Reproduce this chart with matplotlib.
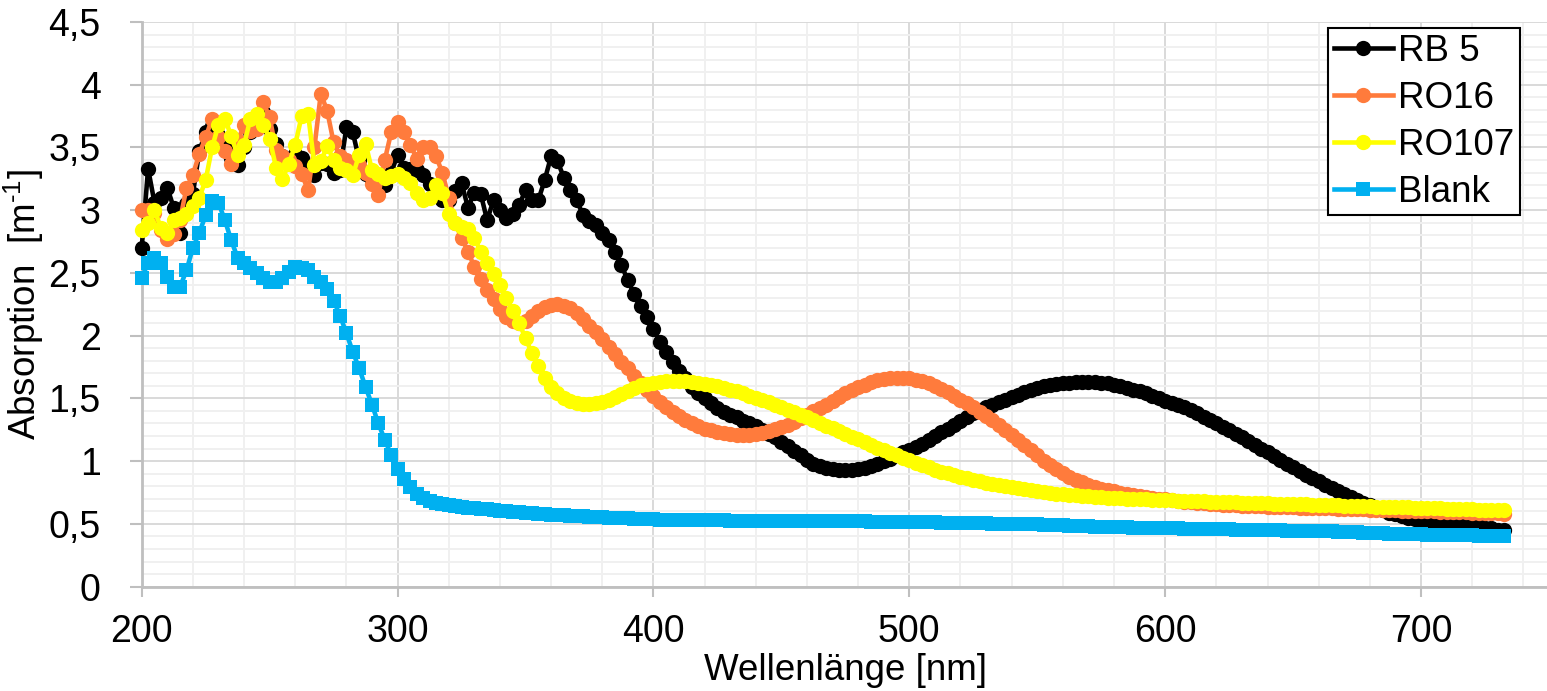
import numpy as np
import matplotlib
matplotlib.use("Agg")
import matplotlib.pyplot as plt
from matplotlib.ticker import MultipleLocator, FuncFormatter

# -----------------------------
# Data, step 2.5 nm from 200 nm
# -----------------------------
wavelength = 200 + 2.5 * np.arange(214)

rb5 = [
    2.70, 3.33, 3.06, 3.10, 3.18, 3.02, 2.82, 3.05, 3.13, 3.47,
    3.62, 3.67, 3.60, 3.50, 3.42, 3.36, 3.50, 3.62, 3.70, 3.78,
    3.65, 3.53, 3.43, 3.40, 3.45, 3.42, 3.35, 3.28, 3.38, 3.37,
    3.30, 3.32, 3.66, 3.62, 3.40, 3.29, 3.24, 3.22, 3.20, 3.30,
    3.44, 3.34, 3.33, 3.32, 3.28, 3.21, 3.15, 3.08, 3.08, 3.15,
    3.22, 3.02, 3.14, 3.13, 2.92, 3.08, 3.00, 2.94, 2.97, 3.04,
    3.16, 3.08, 3.08, 3.24, 3.43, 3.39, 3.26, 3.16, 3.08, 2.96,
    2.91, 2.88, 2.82, 2.76, 2.67, 2.56, 2.44, 2.33, 2.24, 2.15,
    2.05, 1.95, 1.87, 1.79, 1.72, 1.66, 1.59, 1.54, 1.50, 1.46,
    1.42, 1.39, 1.37, 1.35, 1.32, 1.30, 1.28, 1.25, 1.22, 1.19,
    1.15, 1.12, 1.08, 1.05, 1.01, 0.98, 0.96, 0.945, 0.935, 0.93,
    0.93, 0.93, 0.935, 0.945, 0.96, 0.98, 1.00, 1.02, 1.045, 1.07,
    1.09, 1.115, 1.14, 1.17, 1.20, 1.23, 1.26, 1.29, 1.32, 1.35,
    1.38, 1.41, 1.43, 1.45, 1.47, 1.49, 1.51, 1.53, 1.55, 1.565,
    1.58, 1.595, 1.605, 1.615, 1.62, 1.625, 1.63, 1.63, 1.63, 1.63,
    1.625, 1.62, 1.61, 1.60, 1.585, 1.57, 1.555, 1.54, 1.52, 1.50,
    1.48, 1.465, 1.45, 1.43, 1.405, 1.38, 1.355, 1.33, 1.30, 1.27,
    1.245, 1.22, 1.19, 1.16, 1.13, 1.10, 1.07, 1.04, 1.01, 0.98,
    0.95, 0.92, 0.89, 0.865, 0.84, 0.81, 0.785, 0.76, 0.74, 0.715,
    0.69, 0.67, 0.65, 0.63, 0.61, 0.59, 0.575, 0.56, 0.55, 0.54,
    0.53, 0.525, 0.52, 0.515, 0.51, 0.505, 0.50, 0.495, 0.49, 0.48,
    0.47, 0.465, 0.455, 0.45,
]

ro16 = [
    3.00, 3.00, 2.98, 2.84, 2.77, 2.81, 2.92, 3.18, 3.28, 3.45,
    3.58, 3.73, 3.58, 3.47, 3.37, 3.55, 3.68, 3.63, 3.65, 3.86,
    3.74, 3.48, 3.43, 3.40, 3.35, 3.29, 3.16, 3.50, 3.93, 3.79,
    3.54, 3.43, 3.40, 3.37, 3.36, 3.30, 3.21, 3.12, 3.40, 3.62,
    3.70, 3.62, 3.52, 3.41, 3.50, 3.50, 3.43, 3.30, 3.10, 2.90,
    2.78, 2.67, 2.55, 2.45, 2.36, 2.29, 2.21, 2.15, 2.12, 2.10,
    2.12, 2.16, 2.20, 2.23, 2.245, 2.25, 2.24, 2.22, 2.18, 2.13,
    2.08, 2.03, 1.97, 1.91, 1.85, 1.79, 1.74, 1.68, 1.62, 1.57,
    1.52, 1.47, 1.43, 1.39, 1.36, 1.33, 1.30, 1.28, 1.26, 1.245,
    1.235, 1.225, 1.215, 1.21, 1.21, 1.21, 1.215, 1.225, 1.24, 1.255,
    1.27, 1.29, 1.315, 1.34, 1.37, 1.40, 1.425, 1.45, 1.48, 1.51,
    1.54, 1.565, 1.59, 1.61, 1.63, 1.645, 1.655, 1.66, 1.665, 1.665,
    1.66, 1.65, 1.635, 1.62, 1.60, 1.575, 1.55, 1.52, 1.49, 1.46,
    1.43, 1.395, 1.36, 1.325, 1.285, 1.245, 1.205, 1.165, 1.125, 1.085,
    1.045, 1.005, 0.97, 0.935, 0.905, 0.875, 0.85, 0.83, 0.81, 0.795,
    0.78, 0.77, 0.76, 0.75, 0.74, 0.73, 0.722, 0.715, 0.708, 0.702,
    0.696, 0.69, 0.684, 0.678, 0.673, 0.668, 0.664, 0.66, 0.657, 0.654,
    0.651, 0.648, 0.646, 0.644, 0.642, 0.640, 0.638, 0.636, 0.635, 0.633,
    0.632, 0.630, 0.629, 0.627, 0.626, 0.624, 0.623, 0.621, 0.620, 0.618,
    0.617, 0.615, 0.614, 0.612, 0.611, 0.609, 0.608, 0.606, 0.605, 0.603,
    0.602, 0.600, 0.599, 0.597, 0.596, 0.594, 0.593, 0.591, 0.590, 0.588,
    0.587, 0.585, 0.584, 0.582,
]

ro107 = [
    2.84, 2.90, 3.00, 2.86, 2.82, 2.92, 2.94, 2.97, 3.03, 3.10,
    3.24, 3.50, 3.68, 3.73, 3.59, 3.44, 3.52, 3.73, 3.77, 3.68,
    3.57, 3.34, 3.25, 3.37, 3.52, 3.75, 3.77, 3.36, 3.39, 3.51,
    3.40, 3.34, 3.32, 3.28, 3.44, 3.53, 3.32, 3.29, 3.26, 3.27,
    3.29, 3.26, 3.22, 3.14, 3.08, 3.10, 3.20, 3.14, 2.97, 2.90,
    2.87, 2.85, 2.78, 2.67, 2.58, 2.49, 2.40, 2.30, 2.20, 2.10,
    1.98, 1.86, 1.76, 1.66, 1.59, 1.54, 1.50, 1.48, 1.46, 1.455,
    1.455, 1.46, 1.47, 1.49, 1.51, 1.535, 1.56, 1.585, 1.605, 1.615,
    1.625, 1.63, 1.635, 1.638, 1.638, 1.636, 1.632, 1.626, 1.618, 1.608,
    1.596, 1.584, 1.57, 1.555, 1.54, 1.523, 1.505, 1.487, 1.468, 1.449,
    1.43, 1.41, 1.39, 1.37, 1.35, 1.328, 1.306, 1.284, 1.262, 1.24,
    1.218, 1.196, 1.174, 1.152, 1.13, 1.108, 1.087, 1.066, 1.046, 1.026,
    1.006, 0.987, 0.968, 0.95, 0.933, 0.917, 0.902, 0.888, 0.875, 0.863,
    0.851, 0.84, 0.829, 0.819, 0.809, 0.80, 0.791, 0.783, 0.775, 0.768,
    0.761, 0.754, 0.748, 0.742, 0.737, 0.732, 0.727, 0.723, 0.719, 0.715,
    0.712, 0.709, 0.706, 0.703, 0.701, 0.699, 0.697, 0.695, 0.693, 0.691,
    0.689, 0.687, 0.685, 0.683, 0.682, 0.680, 0.679, 0.677, 0.676, 0.674,
    0.673, 0.671, 0.670, 0.668, 0.667, 0.665, 0.664, 0.662, 0.661, 0.659,
    0.658, 0.656, 0.655, 0.653, 0.652, 0.650, 0.649, 0.647, 0.646, 0.644,
    0.643, 0.641, 0.640, 0.638, 0.637, 0.635, 0.634, 0.632, 0.631, 0.629,
    0.628, 0.626, 0.625, 0.623, 0.622, 0.620, 0.619, 0.617, 0.616, 0.614,
    0.613, 0.611, 0.610, 0.608,
]

blank = [
    2.46, 2.58, 2.62, 2.58, 2.47, 2.39, 2.39, 2.52, 2.70, 2.82,
    2.96, 3.07, 3.06, 2.92, 2.76, 2.62, 2.58, 2.54, 2.50, 2.46,
    2.43, 2.43, 2.46, 2.51, 2.55, 2.54, 2.52, 2.47, 2.43, 2.37,
    2.28, 2.16, 2.02, 1.87, 1.74, 1.59, 1.45, 1.30, 1.17, 1.05,
    0.94, 0.86, 0.79, 0.74, 0.71, 0.685, 0.665, 0.655, 0.648, 0.641,
    0.635, 0.630, 0.625, 0.620, 0.615, 0.610, 0.605, 0.600, 0.596, 0.592,
    0.588, 0.584, 0.580, 0.577, 0.574, 0.571, 0.568, 0.565, 0.562, 0.559,
    0.556, 0.553, 0.551, 0.549, 0.547, 0.545, 0.543, 0.541, 0.539, 0.537,
    0.535, 0.534, 0.533, 0.532, 0.531, 0.530, 0.529, 0.529, 0.528, 0.528,
    0.527, 0.527, 0.526, 0.526, 0.525, 0.525, 0.525, 0.524, 0.524, 0.524,
    0.523, 0.523, 0.523, 0.522, 0.522, 0.522, 0.521, 0.521, 0.521, 0.520,
    0.520, 0.520, 0.519, 0.519, 0.518, 0.518, 0.517, 0.517, 0.516, 0.516,
    0.515, 0.514, 0.513, 0.512, 0.511, 0.510, 0.509, 0.508, 0.507, 0.506,
    0.505, 0.504, 0.503, 0.502, 0.501, 0.500, 0.499, 0.498, 0.497, 0.496,
    0.495, 0.494, 0.492, 0.490, 0.488, 0.486, 0.484, 0.482, 0.480, 0.478,
    0.476, 0.475, 0.474, 0.473, 0.472, 0.471, 0.470, 0.469, 0.468, 0.467,
    0.466, 0.465, 0.464, 0.463, 0.462, 0.461, 0.460, 0.459, 0.458, 0.457,
    0.456, 0.455, 0.454, 0.453, 0.452, 0.451, 0.450, 0.449, 0.448, 0.447,
    0.446, 0.445, 0.444, 0.443, 0.442, 0.441, 0.440, 0.438, 0.436, 0.434,
    0.432, 0.430, 0.428, 0.426, 0.424, 0.422, 0.420, 0.419, 0.418, 0.417,
    0.416, 0.415, 0.414, 0.413, 0.412, 0.411, 0.410, 0.409, 0.408, 0.407,
    0.406, 0.405, 0.404, 0.403,
]

series_names = ["RB 5", "RO16", "RO107", "Blank"]
series_colors = ["#000000", "#FF7B3C", "#FFFF00", "#00B0F0"]
series_markers = ["o", "o", "o", "s"]

# -----------------------------
# Plot
# -----------------------------
plt.rcParams['font.family'] = ['Liberation Sans', 'DejaVu Sans']
plt.rcParams['mathtext.fontset'] = 'custom'
plt.rcParams['mathtext.rm'] = 'Liberation Sans'
plt.rcParams['font.size'] = 26

fig = plt.figure(figsize=(15.47, 6.91), dpi=100)
ax = fig.add_axes([141.7 / 1547, 1 - 586.6 / 691, (1549 - 141.7) / 1547, (586.6 - 22) / 691])

for ys, name, col, mk in zip([rb5, ro16, ro107, blank], series_names,
                             series_colors, series_markers):
    ms = 10.5 if mk == "s" else 11
    ax.plot(wavelength, ys, color=col, lw=3.3, marker=mk, markersize=ms,
            markeredgewidth=0, label=name, clip_on=False, zorder=3)

ax.set_xlim(200, 750)
ax.set_ylim(0, 4.5)

ax.xaxis.set_major_locator(MultipleLocator(100))
ax.xaxis.set_minor_locator(MultipleLocator(20))
ax.yaxis.set_major_locator(MultipleLocator(0.5))
ax.yaxis.set_minor_locator(MultipleLocator(0.1))
ax.yaxis.set_major_formatter(FuncFormatter(lambda v, p: f"{v:g}".replace(".", ",")))
ax.set_xticks([200, 300, 400, 500, 600, 700])

ax.set_axisbelow(True)
ax.grid(which="major", color="#d9d9d9", lw=1.4)
ax.grid(which="minor", color="#f0f0f0", lw=1.4)

for side in ["top", "right"]:
    ax.spines[side].set_visible(False)
for side in ["left", "bottom"]:
    ax.spines[side].set_color("#bfbfbf")
    ax.spines[side].set_linewidth(2)

ax.tick_params(which="major", axis="x", direction="out", length=7, width=1.5,
               color="#bfbfbf", pad=13, labelsize=27)
ax.tick_params(which="major", axis="y", direction="out", length=8.5, width=1.5,
               color="#bfbfbf", pad=21, labelsize=27)
ax.tick_params(which="minor", length=0)

ax.set_xlabel("Wellenlänge [nm]", fontsize=26.5)
ax.set_ylabel(r"Absorption  [m$^{\text{-}1}$]", fontsize=26.5)
ax.xaxis.set_label_coords(0.5, -0.118)
ax.yaxis.set_label_coords(-0.068, 0.5)

leg = ax.legend(loc="upper right", bbox_to_anchor=(1520 / 1547, 1 - 28 / 691),
                bbox_transform=fig.transFigure, fontsize=26.5, frameon=True,
                fancybox=False, borderaxespad=0, borderpad=0.15,
                labelspacing=0.33, handlelength=1.6, handletextpad=0.15)
leg.get_frame().set_edgecolor("black")
leg.get_frame().set_linewidth(1.5)
leg.get_frame().set_alpha(1)

fig.savefig("out.png", dpi=100)
